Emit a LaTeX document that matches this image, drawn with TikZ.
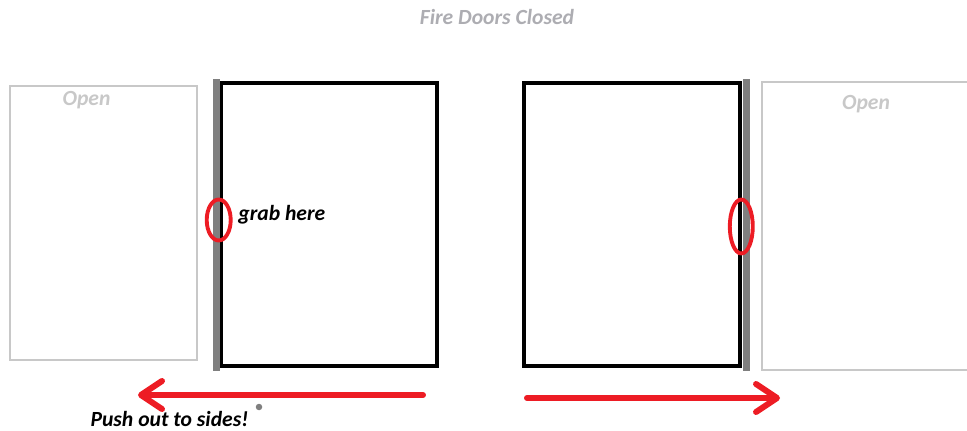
\documentclass[tikz,border=0pt]{standalone}
\usepackage{fontspec}
\setmainfont{Carlito}
\usepackage{tikz}
\usetikzlibrary{arrows.meta,positioning,shapes.geometric}
\definecolor{pred}{HTML}{ED1C24}
\definecolor{pgrey}{HTML}{7F7F7F}
\definecolor{plight}{HTML}{C8C8C8}
\definecolor{ptitle}{HTML}{ADADB2}
\tikzset{
  door/.style={draw=black,line width=2.6pt,minimum width=4.32cm,minimum height=5.66cm,inner sep=0pt},
  openbox/.style={draw=plight,line width=0.8pt,inner sep=0pt},
  hinge/.style={draw=pgrey,line width=3.8pt},
  grip/.style={ellipse,draw=pred,line width=2.2pt,inner sep=0pt},
  push/.style={-{Straight Barb[length=0.42cm,width=0.56cm,round]},line width=3.4pt,draw=pred,line cap=round},
  paint/.style={font=\fontsize{12.3}{14}\selectfont\bfseries\itshape,inner sep=0pt},
}
\begin{document}
\begin{tikzpicture}[ttl/.style={paint,text=ptitle},
                    otxt/.style={paint,text=plight}]
  \clip (0,0) rectangle (19.34,8.6);
  \node[ttl] (title) at (9.94,8.26) {Fire Doors Closed};
  % open positions
  \node[openbox,minimum width=3.74cm,minimum height=5.48cm] (lopen) at (2.07,4.14) {};
  \node[openbox,minimum width=4.36cm,minimum height=5.76cm] (ropen) at (17.42,4.08) {};
  \node[otxt] (lolbl) at (1.73,6.6) {Open};
  \node[otxt] (rolbl) at (17.32,6.52) {Open};
  % doors
  \node[door] (ldoor) at (6.58,4.11) {};
  \node[door] (rdoor) at (12.64,4.11) {};
  \draw[hinge] ([xshift=-0.05cm,yshift=0.03cm]ldoor.north west) -- ([xshift=-0.05cm,yshift=-0.06cm]ldoor.south west);
  \draw[hinge] ([xshift=0.09cm,yshift=0.03cm]rdoor.north east) -- ([xshift=0.09cm,yshift=-0.06cm]rdoor.south east);
  \node[grip,minimum width=0.48cm,minimum height=0.82cm] (lgrip) at ([yshift=0.09cm]ldoor.west) {};
  \node[grip,minimum width=0.46cm,minimum height=1.08cm] (rgrip) at ([xshift=-0.02cm,yshift=-0.04cm]rdoor.east) {};
  \node[paint,anchor=west] (grab) at (4.76,4.30) {grab here};
  % push
  \coordinate (la) at (8.46,0.70);
  \coordinate (lb) at (2.76,0.70);
  \coordinate (ra) at (10.54,0.64);
  \coordinate (rb) at (15.6,0.64);
  \draw[push] (la) -- (lb);
  \draw[push] (ra) -- (rb);
  \node[circle,fill=pgrey,inner sep=0pt,minimum size=0.13cm] (dot) at (5.18,0.46) {};
  \node[paint] (pushlbl) at (3.39,0.23) {Push out to sides!};
\end{tikzpicture}
\end{document}
